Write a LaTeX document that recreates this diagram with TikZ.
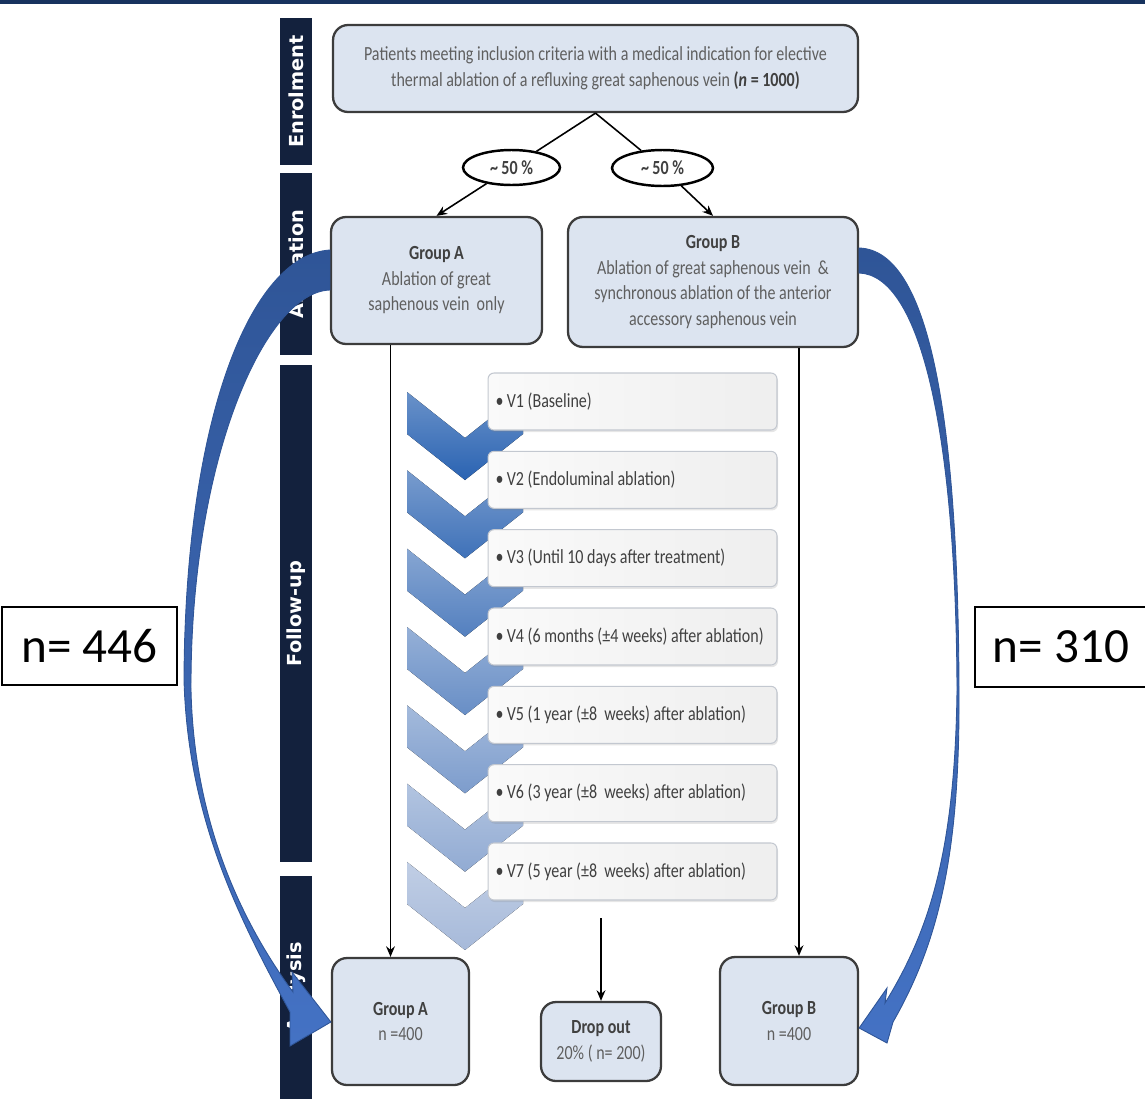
\documentclass[tikz,border=0pt]{standalone}
\usepackage{fontspec}
\setmainfont{Carlito}
\newfontfamily\narrowfont[FakeStretch=0.8]{Carlito}
\newfontfamily\barfont{DejaVu Sans}
\usetikzlibrary{shapes.geometric,arrows.meta,shadows}

\definecolor{navy}{HTML}{13213D}
\definecolor{topline}{HTML}{17325E}
\definecolor{boxfill}{HTML}{DCE4F0}
\definecolor{boxline}{HTML}{3C3C3C}
\definecolor{txtgray}{HTML}{5F5F5F}
\definecolor{txtdark}{HTML}{404040}
\definecolor{chevdark}{HTML}{2A63B2}
\definecolor{chevpale}{HTML}{B4C3DE}
\definecolor{visitline}{HTML}{C3C8D0}
\definecolor{bigarrow}{HTML}{4472C4}
\definecolor{bigarrowdk}{HTML}{2F5597}
\newcommand{\flowfont}{\narrowfont\fontsize{11.4}{14.5}\selectfont}
\newcommand{\grouphead}[1]{\textcolor{txtdark}{\textbf{#1}}}

\begin{document}
\begin{tikzpicture}[x=0.02cm, y=-0.02cm,
		bar/.style={fill=navy, text=white, font=\barfont\bfseries\fontsize{11}{13}\selectfont, minimum height=0.64cm, inner sep=0pt, rotate=90},
		block/.style={draw=boxline, line width=1.3pt, rounded corners=0.3cm, fill=boxfill, align=center, text=txtgray, font=\flowfont, inner sep=2pt},
		oval/.style={ellipse, draw=black, line width=1.4pt, fill=white, text=txtdark, font=\flowfont\bfseries, inner sep=0pt},
		visit/.style={draw=visitline, line width=0.6pt, rounded corners=0.12cm, left color=gray!4, right color=gray!13, text=txtdark, font=\flowfont, minimum height=1.14cm, text width=5.48cm, inner xsep=0.15cm, align=left, drop shadow={opacity=0.2, shadow xshift=0.6pt, shadow yshift=-1.2pt}},
		count/.style={draw=black, line width=1.1pt, fill=white, font=\fontsize{28}{32}\selectfont, inner sep=0pt},
		flow/.style={->, >={Stealth[length=6pt, width=5pt]}, line width=0.9pt},
		bigarrow/.style={top color=bigarrowdk, bottom color=bigarrow, draw=bigarrowdk, line width=0.5pt}]
	\useasboundingbox (0,0) rectangle (1145,1099);
	\fill[topline] (0,0) rectangle (1145,4);

	% phase bars
	\node[bar, minimum width=2.94cm] (barenrol) at (296,91.5) {Enrolment};
	\node[bar, minimum width=3.64cm] (baralloc) at (296,264) {Allocation};
	\node[bar, minimum width=9.94cm] (barfollow) at (296,613.5) {Follow-up};
	\node[bar, minimum width=4.46cm] (baranalysis) at (296,987.5) {Analysis};

	% enrolment and allocation
	\node[block, minimum width=10.5cm, minimum height=1.74cm] (enrol) at (595.5,68.5) {Patients meeting inclusion criteria with a medical indication for elective\\thermal ablation of a refluxing great saphenous vein \grouphead{(\textit{n} = 1000)}};
	\node[oval, minimum width=1.94cm, minimum height=0.7cm] (ovl) at (511.5,167.5) {\textasciitilde\,50 \%};
	\node[oval, minimum width=2.02cm, minimum height=0.72cm] (ovr) at (662.5,168) {\textasciitilde\,50 \%};
	\node[block, minimum width=4.22cm, minimum height=2.54cm] (grpa) at (436.5,280.5) {\grouphead{Group A}\\Ablation of great\\saphenous vein\ \ only};
	\node[block, minimum width=5.8cm, minimum height=2.6cm] (grpb) at (713,282) {\grouphead{Group B}\\Ablation of great saphenous vein\ \ \&\\synchronous ablation of the anterior\\accessory saphenous vein};

	% follow-up chevrons and visits
	\foreach \k in {0,...,6} {
		\pgfmathtruncatemacro\mix{100-\k*15}
		\fill[shift={(0,\k*78.33)}, top color=chevdark!\mix!chevpale!70!white, bottom color=chevdark!\mix!chevpale]
			(407,392) -- (465,438) -- (523,392) -- (523,434) -- (465,480) -- (407,434) -- cycle;
	}
	\foreach \lbl [count=\i] in {{V1 (Baseline)}, {V2 (Endoluminal ablation)}, {V3 (Until 10 days after treatment)}, {V4 (6 months (±4 weeks) after ablation)}, {V5 (1 year (±8\ \ weeks) after ablation)}, {V6 (3 year (±8\ \ weeks) after ablation)}, {V7 (5 year (±8\ \ weeks) after ablation)}}
		\node[visit] (visit\i) at (632.5,{401.5+(\i-1)*78.33}) {\spaceskip=0pt\xspaceskip=0pt\textbullet\,\lbl};

	% analysis
	\node[block, minimum width=2.74cm, minimum height=2.54cm] (enda) at (400.5,1021.5) {\grouphead{Group A}\\n =400};
	\node[block, minimum width=2.4cm, minimum height=1.58cm] (drop) at (601,1041.5) {\grouphead{Drop out}\\20\% ( n= 200)};
	\node[block, minimum width=2.76cm, minimum height=2.56cm] (endb) at (789,1021) {\grouphead{Group B}\\n =400};
	\coordinate (dropin) at (601,918);

	\node[count, minimum width=3.5cm, minimum height=1.56cm] (na) at (89.5,646) {n= 446};
	\node[count, minimum width=3.44cm, minimum height=1.6cm] (nb) at (1061,647) {n= 310};

	% connectors
	\draw[line width=0.9pt] (enrol.south) -- (ovl) (enrol.south) -- (ovr);
	\draw[flow] (ovl) -- (grpa.north);
	\draw[flow] (ovr) -- (grpb.north);
	\draw[flow] ([xshift=-0.2cm]enda.north |- grpa.south) -- ([xshift=-0.2cm]enda.north);
	\draw[flow] ([xshift=0.2cm]endb.north |- grpb.south) -- ([xshift=0.2cm]endb.north);
	\draw[flow] (dropin) -- (drop.north);

	% curved arrows round the trial
	\draw[bigarrow] (grpa.west |- 0,250) .. controls (250,255) and (185,420) .. (184,680)
		.. controls (188,820) and (240,920) .. (290,1012) -- (290,1046) -- (enda.west |- 0,1022) -- (292,972) -- (293,992)
		.. controls (240,920) and (194,820) .. (191,690) .. controls (190,460) and (265,292) .. (grpa.west |- 0,290) -- cycle;
	\draw[bigarrow] (grpb.east |- 0,248) .. controls (930,250) and (958,420) .. (959,690)
		.. controls (960,850) and (940,940) .. (893,1022) -- (887,1043) -- (endb.east |- 0,1028) -- (887,988) -- (885,1003)
		.. controls (930,930) and (955,850) .. (957,690) .. controls (956,430) and (920,275) .. (grpb.east |- 0,273) -- cycle;
\end{tikzpicture}
\end{document}
